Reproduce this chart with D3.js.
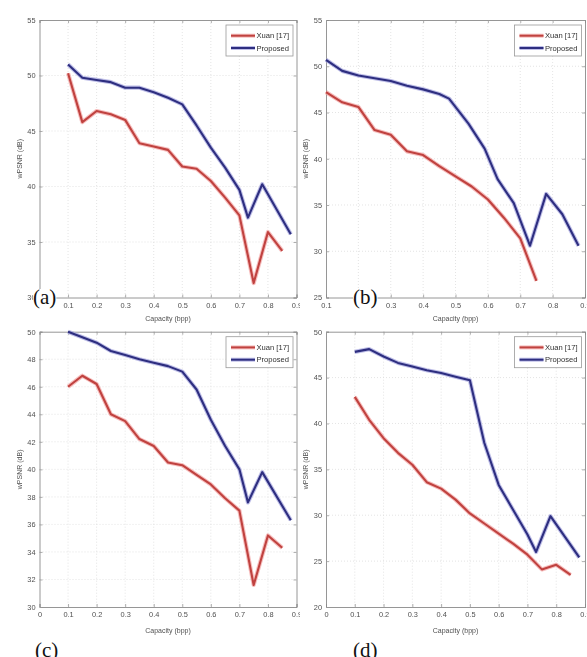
<!DOCTYPE html>
<html>
<head>
<meta charset="utf-8">
<script src="https://cdn.jsdelivr.net/npm/d3@7"></script>
<style>
  body { margin: 0; background: #fff; }
  svg { display: block; }
</style>
</head>
<body>
<svg id="chart" width="587" height="657"></svg>
<script>
// values, wPSNR (dB) vs capacity (bpp)
const seriesNames = ['Xuan [17]', 'Proposed'];

const capXuanA = [0.10, 0.15, 0.20, 0.25, 0.30, 0.35, 0.40, 0.45, 0.50, 0.55, 0.60, 0.65, 0.70, 0.75, 0.80, 0.85];
const psnrXuanA = [50.2, 45.8, 46.8, 46.5, 46.0, 43.9, 43.6, 43.3, 41.8, 41.6, 40.5, 39.0, 37.4, 31.3, 35.9, 34.2];
const capPropA = [0.10, 0.15, 0.20, 0.25, 0.30, 0.35, 0.40, 0.45, 0.50, 0.55, 0.60, 0.65, 0.70, 0.73, 0.78, 0.88];
const psnrPropA = [51.0, 49.8, 49.6, 49.4, 48.9, 48.9, 48.5, 48.0, 47.4, 45.5, 43.5, 41.7, 39.7, 37.2, 40.2, 35.7];

const capXuanB = [0.10, 0.15, 0.20, 0.25, 0.30, 0.35, 0.40, 0.45, 0.50, 0.55, 0.60, 0.65, 0.70, 0.75];
const psnrXuanB = [47.2, 46.1, 45.6, 43.1, 42.6, 40.8, 40.4, 39.2, 38.1, 37.0, 35.6, 33.6, 31.4, 26.8];
const capPropB = [0.10, 0.15, 0.20, 0.25, 0.30, 0.35, 0.40, 0.45, 0.48, 0.54, 0.59, 0.63, 0.68, 0.73, 0.78, 0.83, 0.88];
const psnrPropB = [50.7, 49.5, 49.0, 48.7, 48.4, 47.9, 47.5, 47.0, 46.5, 43.8, 41.1, 37.8, 35.2, 30.6, 36.2, 34.0, 30.6];

const capXuanC = [0.10, 0.15, 0.20, 0.25, 0.30, 0.35, 0.40, 0.45, 0.50, 0.55, 0.60, 0.65, 0.70, 0.75, 0.80, 0.85];
const psnrXuanC = [46.0, 46.8, 46.2, 44.0, 43.5, 42.2, 41.7, 40.5, 40.3, 39.6, 38.9, 37.9, 37.0, 31.6, 35.2, 34.3];
const capPropC = [0.10, 0.15, 0.20, 0.25, 0.30, 0.35, 0.40, 0.45, 0.50, 0.55, 0.60, 0.65, 0.70, 0.73, 0.78, 0.88];
const psnrPropC = [50.0, 49.6, 49.2, 48.6, 48.3, 48.0, 47.75, 47.5, 47.1, 45.8, 43.6, 41.7, 40.0, 37.6, 39.8, 36.3];

const capXuanD = [0.10, 0.15, 0.20, 0.25, 0.30, 0.35, 0.40, 0.45, 0.50, 0.55, 0.60, 0.65, 0.70, 0.75, 0.80, 0.85];
const psnrXuanD = [42.9, 40.4, 38.4, 36.8, 35.5, 33.6, 32.9, 31.7, 30.2, 29.1, 28.0, 26.9, 25.7, 24.1, 24.6, 23.5];
const capPropD = [0.10, 0.15, 0.20, 0.25, 0.30, 0.35, 0.40, 0.45, 0.50, 0.55, 0.60, 0.65, 0.70, 0.73, 0.78, 0.88];
const psnrPropD = [47.8, 48.1, 47.3, 46.6, 46.2, 45.8, 45.5, 45.1, 44.7, 37.9, 33.3, 30.6, 27.9, 26.0, 29.9, 25.4];

// tick labels
const xTicksFull = [0, 0.1, 0.2, 0.3, 0.4, 0.5, 0.6, 0.7, 0.8, 0.9];
const xTicksB = [0.1, 0.2, 0.3, 0.4, 0.5, 0.6, 0.7, 0.8, 0.9];
const yTicksA = [30, 35, 40, 45, 50, 55];
const yTicksB = [25, 30, 35, 40, 45, 50, 55];
const yTicksC = [30, 32, 34, 36, 38, 40, 42, 44, 46, 48, 50];
const yTicksD = [20, 25, 30, 35, 40, 45, 50];

const colors = {core: ['#c0433f', '#2e2f80'], halo: ['#f2a3a3', '#a3a3dd']};

// layout for each panel (plot box in page pixels)
const panels = [
    {tag: '(a)', box: {l: 39.5, t: 20, r: 296.5, b: 297.5}, clipW: 300,
        xTicks: xTicksFull, yTicks: yTicksA, tagPos: [33, 304], tagBg: true, xlabDy: 23,
        series: [[capXuanA, psnrXuanA], [capPropA, psnrPropA]]},
    {tag: '(b)', box: {l: 326, t: 20, r: 585, b: 297.5}, clipW: 587,
        xTicks: xTicksB, yTicks: yTicksB, tagPos: [353, 304], tagBg: true, xlabDy: 23,
        series: [[capXuanB, psnrXuanB], [capPropB, psnrPropB]]},
    {tag: '(c)', box: {l: 39.5, t: 331.7, r: 296.5, b: 607}, clipW: 300,
        xTicks: xTicksFull, yTicks: yTicksC, tagPos: [35, 657], tagBg: false, xlabDy: 25.5,
        series: [[capXuanC, psnrXuanC], [capPropC, psnrPropC]]},
    {tag: '(d)', box: {l: 326, t: 331.7, r: 585, b: 607}, clipW: 587,
        xTicks: xTicksFull, yTicks: yTicksD, tagPos: [353, 657], tagBg: false, xlabDy: 25.5,
        series: [[capXuanD, psnrXuanD], [capPropD, psnrPropD]]}
];

const svg = d3.select('#chart');
const defs = svg.append('defs');
defs.append('filter').attr('id', 'soft')
    .attr('x', '-5%').attr('y', '-5%').attr('width', '110%').attr('height', '110%')
    .append('feGaussianBlur').attr('stdDeviation', 0.45);

panels.forEach((p, idx) => {
    const bx = p.box;
    const clipId = 'clip' + idx;
    defs.append('clipPath').attr('id', clipId)
        .append('rect')
        .attr('x', bx.l - 45).attr('y', bx.t - 20)
        .attr('width', p.clipW - (bx.l - 45)).attr('height', bx.b - bx.t + 60);

    const g = svg.append('g')
        .attr('clip-path', `url(#${clipId})`)
        .attr('filter', 'url(#soft)')
        .style('font-family', '"Liberation Sans", Arial, sans-serif');

    const x = d3.scaleLinear()
        .domain([p.xTicks[0], p.xTicks[p.xTicks.length - 1]])
        .range([bx.l, bx.r]);
    const y = d3.scaleLinear()
        .domain([p.yTicks[0], p.yTicks[p.yTicks.length - 1]])
        .range([bx.b, bx.t]);

    // faint dotted grid
    const grid = g.append('g')
        .attr('stroke', '#d8d8d8')
        .attr('stroke-width', 0.7)
        .attr('stroke-dasharray', '1,2');
    grid.selectAll('.gx').data(p.xTicks.slice(1, -1)).enter().append('line')
        .attr('x1', d => x(d)).attr('x2', d => x(d))
        .attr('y1', bx.t).attr('y2', bx.b);
    grid.selectAll('.gy').data(p.yTicks.slice(1, -1)).enter().append('line')
        .attr('x1', bx.l).attr('x2', bx.r)
        .attr('y1', d => y(d)).attr('y2', d => y(d));

    // axes, ticks pointing inward like matlab
    const fmt = d3.format('');
    g.append('g')
        .attr('transform', `translate(0,${bx.b})`)
        .call(d3.axisBottom(x).tickValues(p.xTicks).tickSize(-3).tickPadding(5).tickFormat(fmt));
    g.append('g')
        .attr('transform', `translate(${bx.l},0)`)
        .call(d3.axisLeft(y).tickValues(p.yTicks).tickSize(-3).tickPadding(4).tickFormat(fmt));
    g.append('g')
        .attr('transform', `translate(0,${bx.t})`)
        .call(d3.axisTop(x).tickValues(p.xTicks).tickSize(-3).tickFormat(''));
    g.append('g')
        .attr('transform', `translate(${bx.r},0)`)
        .call(d3.axisRight(y).tickValues(p.yTicks).tickSize(-3).tickFormat(''));

    g.selectAll('.domain').attr('stroke', '#8a8a8a').attr('stroke-width', 0.9);
    g.selectAll('.tick line').attr('stroke', '#9a9a9a').attr('stroke-width', 0.8);
    g.selectAll('.tick text').attr('fill', '#505050').style('font-size', '7.4px');

    // axis titles
    g.append('text')
        .attr('x', (bx.l + bx.r) / 2)
        .attr('y', bx.b + p.xlabDy)
        .attr('text-anchor', 'middle')
        .attr('fill', '#505050')
        .style('font-size', '7px')
        .text('Capacity (bpp)');
    g.append('text')
        .attr('transform', `translate(${bx.l - 18},${(bx.t + bx.b) / 2}) rotate(-90)`)
        .attr('text-anchor', 'middle')
        .attr('fill', '#505050')
        .style('font-size', '7px')
        .text('wPSNR (dB)');

    // lines
    const line = d3.line().x(d => x(d[0])).y(d => y(d[1]));
    p.series.forEach((s, i) => {
        const pts = s[0].map((c, k) => [c, s[1][k]]);
        g.append('path').datum(pts)
            .attr('d', line)
            .attr('fill', 'none')
            .attr('stroke', colors.halo[i])
            .attr('stroke-width', 4.2)
            .attr('stroke-linejoin', 'round')
            .attr('opacity', 0.7);
        g.append('path').datum(pts)
            .attr('d', line)
            .attr('fill', 'none')
            .attr('stroke', colors.core[i])
            .attr('stroke-width', 2.1)
            .attr('stroke-linejoin', 'round');
    });

    // legend
    const lw = 67, lh = 31;
    const lg = g.append('g')
        .attr('transform', `translate(${bx.r - lw - 3.5},${bx.t + 5})`);
    lg.append('rect')
        .attr('width', lw).attr('height', lh)
        .attr('fill', '#fff')
        .attr('stroke', '#9a9a9a')
        .attr('stroke-width', 0.8);
    const items = lg.selectAll('.item').data(seriesNames).enter().append('g')
        .attr('transform', (d, i) => `translate(0,${10.7 + i * 12.3})`);
    items.append('line')
        .attr('x1', 5).attr('x2', 29)
        .attr('stroke', (d, i) => colors.halo[i])
        .attr('stroke-width', 4)
        .attr('opacity', 0.7);
    items.append('line')
        .attr('x1', 5).attr('x2', 29)
        .attr('stroke', (d, i) => colors.core[i])
        .attr('stroke-width', 2);
    items.append('text')
        .attr('x', 30.5)
        .attr('dy', '0.35em')
        .attr('fill', '#303030')
        .style('font-size', '7.6px')
        .text(d => d);

    // panel tag in serif
    const tag = svg.append('g');
    const tagText = tag.append('text')
        .attr('x', p.tagPos[0])
        .attr('y', p.tagPos[1])
        .attr('fill', '#111')
        .style('font-family', '"Liberation Serif", "Times New Roman", serif')
        .style('font-size', '21px')
        .text(p.tag);
    if (p.tagBg) {
        const bb = tagText.node().getBBox();
        tag.insert('rect', 'text')
            .attr('x', bb.x).attr('y', bb.y + 4)
            .attr('width', bb.width).attr('height', bb.height - 4)
            .attr('fill', '#fff');
    }
});
</script>
</body>
</html>
